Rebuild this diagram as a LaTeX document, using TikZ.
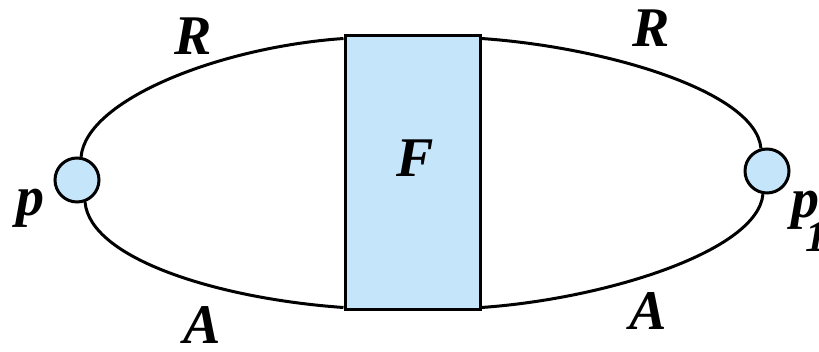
\documentclass[tikz,border=0pt]{standalone}
\usepackage{fontspec}
\setmainfont{Liberation Serif}
\usepackage{xcolor}
\definecolor{fdfill}{HTML}{C5E5FA}
\usepackage{tikz}
\usetikzlibrary{calc}
\tikzset{
  fdbox/.style={draw,line width=1.5pt,fill=fdfill,minimum width=67.5pt,minimum height=137pt,inner sep=0pt},
  fdvertex/.style={circle,draw,line width=1.5pt,fill=fdfill,minimum size=22pt,inner sep=0pt},
  fdprop/.style={line width=1.5pt},
  fdlabel/.style={font=\fontsize{28}{28}\selectfont\bfseries\itshape,inner sep=0pt},
}
\begin{document}
\begin{tikzpicture}[x=0.5pt,y=0.5pt]
  \useasboundingbox (0,0) rectangle (819,352);
  % kernel and end vertices
  \node[fdbox] (F) at (412.5,179) {};
  \node[fdvertex] (pl) at (77,172) {};
  \node[fdvertex] (pr) at (767,181) {};
  % propagators
  \draw[fdprop] (pl.80) .. controls +(85:57) and +(184:125) .. ($(F.north west)+(0,-4)$);
  \draw[fdprop] (pl.-70) .. controls +(-85:57) and +(176:125) .. ($(F.south west)+(0,4)$);
  \draw[fdprop] ($(F.north east)+(0,-4)$) .. controls +(-4:125) and +(95:57) .. (pr.105);
  \draw[fdprop] ($(F.south east)+(0,4)$) .. controls +(4:125) and +(-95:57) .. (pr.-100);
  % labels
  \node[fdlabel] (Flbl) at (415,194) {F};
  \node[fdlabel] (rl) at (193,316) {R};
  \node[fdlabel] (rr) at (651,324) {R};
  \node[fdlabel] (al) at (202,27) {A};
  \node[fdlabel] (ar) at (648,41) {A};
  \node[fdlabel,anchor=base] (pll) at (31,136) {p};
  \node[fdlabel,anchor=base west] (prl) at (791,134) {p\kern-7pt\raisebox{-17pt}{\fontsize{22}{22}\selectfont 1}};
\end{tikzpicture}
\end{document}
